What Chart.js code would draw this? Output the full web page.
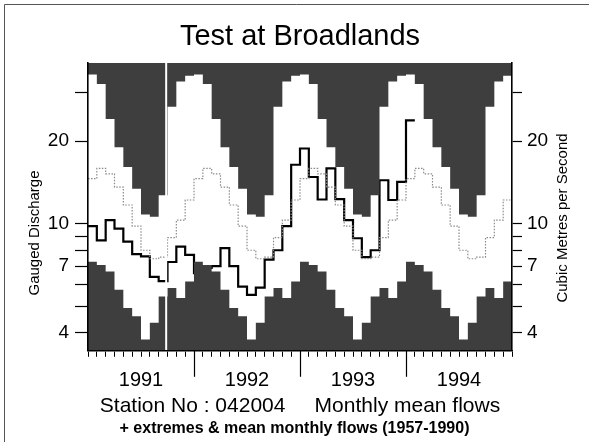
<!DOCTYPE html>
<html>
<head>
<meta charset="utf-8">
<title>Test at Broadlands</title>
<script src="https://cdn.jsdelivr.net/npm/chart.js@4.4.1/dist/chart.umd.min.js"></script>
<style>
  html, body { margin: 0; padding: 0; background: #fff; }
</style>
</head>
<body>
<canvas id="chart" width="589" height="442"></canvas>
<script>
// Long-term record 1957-1990, by calendar month (Jan..Dec), m3/s
const maxByMonth  = [35.0, 32.3, 24.1, 19.0, 16.1, 13.4, 10.8, 10.6, 12.7, 26.7, 33.0, 34.6]
const meanByMonth = [14.6, 15.9, 15.2, 13.6, 11.7, 9.8, 8.0, 7.45, 7.55, 8.9, 10.3, 12.2]
const minByMonth  = [7.27, 7.07, 6.69, 5.74, 4.93, 4.60, 3.78, 4.35, 5.43, 5.83, 5.36, 6.15]

// Monthly mean flows, Jan 1991 .. Jan 1994
const monthlyFlow = [
  9.8, 8.7, 10.3, 9.6, 8.6, 7.75, 7.6, 6.4, 6.17, 7.25, 8.25, 7.7,
  6.6, 6.9, 7.0, 8.15, 7.0, 5.9, 5.5, 5.85, 7.4, 8.0, 9.8, 16.4,
  18.8, 14.8, 12.25, 15.9, 12.3, 10.3, 8.85, 7.55, 8.0, 14.4, 12.2, 14.2,
  23.8
]

const yearLabels = ['1991', '1992', '1993', '1994']
const yearBreaks = [12, 24, 36]          // month index of 1 Jan 1992, 1993, 1994
const gapMonth = 8.85                    // white break in the record, autumn 1991
const yTicks = [4, 5, 6, 7, 8, 9, 10, 20, 30]
const yLabelled = [4, 7, 10, 20]
const yMin = 3.44
const yMax = 38.6

const FONT = '"Liberation Sans", Arial, Helvetica, sans-serif'
const DARK = '#3e3e3e'
const nMonths = yearLabels.length * 12

// month index -> calendar-month value, one extra point to close the last step
function climSeries(byMonth) {
  const pts = []
  for (let i = 0; i <= nMonths; i++) {
    pts.push({ x: i, y: byMonth[Math.min(i, nMonths - 1) % 12] })
  }
  return pts
}

const flowPoints = monthlyFlow.map((v, i) => ({ x: i, y: v }))
flowPoints.push({ x: monthlyFlow.length, y: monthlyFlow[monthlyFlow.length - 1] })

const monthTicks = []
for (let i = 0; i <= nMonths; i++) monthTicks.push({ value: i })

function yAxis(position, width, tickLength, padding) {
  return {
    type: 'logarithmic',
    position: position,
    min: yMin,
    max: yMax,
    afterBuildTicks: s => { s.ticks = yTicks.map(v => ({ value: v })) },
    afterFit: s => { s.width = width },
    grid: { drawOnChartArea: false, tickLength: tickLength, tickColor: '#000', tickWidth: 1.2 },
    border: { color: '#000', width: 1.6, z: 1 },
    ticks: {
      autoSkip: false,
      padding: padding,
      color: '#000',
      font: { family: FONT, size: 19 },
      callback: v => (yLabelled.includes(v) ? String(v) : '')
    }
  }
}

// extra marks: year break lines under the axis, gap line, side labels, frame
const extras = {
  id: 'extras',
  afterDatasetsDraw(chart) {
    const { ctx, chartArea, scales } = chart
    const gx = scales.x.getPixelForValue(gapMonth)
    ctx.save()
    ctx.strokeStyle = '#fff'
    ctx.lineWidth = 2
    ctx.beginPath()
    ctx.moveTo(gx, chartArea.top)
    ctx.lineTo(gx, chartArea.bottom)
    ctx.stroke()
    ctx.restore()
  },
  afterDraw(chart) {
    const { ctx, chartArea, scales } = chart
    ctx.save()
    ctx.strokeStyle = '#000'
    ctx.lineWidth = 1.2
    yearBreaks.forEach(m => {
      const px = Math.round(scales.x.getPixelForValue(m)) + 0.5
      ctx.beginPath()
      ctx.moveTo(px, chartArea.bottom)
      ctx.lineTo(px, chartArea.bottom + 26)
      ctx.stroke()
    })

    ctx.fillStyle = '#000'
    ctx.font = '15px ' + FONT
    ctx.textAlign = 'center'
    ctx.textBaseline = 'middle'
    ctx.translate(35, 233)
    ctx.rotate(-Math.PI / 2)
    ctx.fillText('Gauged Discharge', 0, 0)
    ctx.rotate(Math.PI / 2)
    ctx.translate(563 - 35, 218 - 233)
    ctx.rotate(-Math.PI / 2)
    ctx.fillText('Cubic Metres per Second', 0, 0)
    ctx.restore()

    ctx.save()
    ctx.strokeStyle = '#555'
    ctx.lineWidth = 1
    ctx.beginPath()
    ctx.moveTo(4.5, chart.height)
    ctx.lineTo(4.5, 4.5)
    ctx.lineTo(chart.width, 4.5)
    ctx.stroke()
    ctx.restore()
  }
}

new Chart(document.getElementById('chart'), {
  type: 'line',
  data: {
    datasets: [
      {
        label: 'Maximum',
        data: climSeries(maxByMonth),
        stepped: true,
        fill: 'end',
        backgroundColor: DARK,
        borderWidth: 0,
        pointRadius: 0
      },
      {
        label: 'Minimum',
        data: climSeries(minByMonth),
        stepped: true,
        fill: 'start',
        backgroundColor: DARK,
        borderWidth: 0,
        pointRadius: 0
      },
      {
        label: 'Mean',
        data: climSeries(meanByMonth),
        stepped: true,
        fill: false,
        borderColor: '#8a8a8a',
        borderWidth: 1.2,
        borderDash: [1.5, 1.5],
        pointRadius: 0
      },
      {
        label: 'Monthly mean flow',
        data: flowPoints,
        stepped: true,
        fill: false,
        borderColor: '#000',
        borderWidth: 2.2,
        pointRadius: 0
      }
    ]
  },
  options: {
    responsive: false,
    animation: false,
    layout: { padding: 0 },
    plugins: {
      legend: { display: false },
      tooltip: { enabled: false },
      title: {
        display: true,
        text: 'Test at Broadlands',
        fullSize: false,
        color: '#000',
        font: { family: FONT, size: 29, weight: 'normal' },
        padding: { top: 20, bottom: 8 }
      },
      subtitle: {
        display: true,
        position: 'bottom',
        text: '+ extremes & mean monthly flows (1957-1990)',
        color: '#000',
        font: { family: FONT, size: 16, weight: 'bold' },
        padding: { top: 0, bottom: 4 }
      }
    },
    scales: {
      x: {
        type: 'linear',
        min: 0,
        max: nMonths,
        afterBuildTicks: s => { s.ticks = monthTicks.slice() },
        afterFit: s => { s.height = 68 },
        grid: { drawOnChartArea: false, tickLength: 6, tickColor: '#000', tickWidth: 1 },
        border: { color: '#000', width: 1.6, z: 1 },
        ticks: {
          autoSkip: false,
          maxRotation: 0,
          padding: 12,
          color: '#000',
          font: { family: FONT, size: 20 },
          callback: v => ((v - 6) % 12 === 0 ? yearLabels[(v - 6) / 12] : '')
        },
        title: {
          display: true,
          text: 'Station No : 042004\u00a0\u00a0\u00a0\u00a0\u00a0Monthly mean flows',
          color: '#000',
          font: { family: FONT, size: 21 },
          padding: { top: 0, bottom: 0 }
        }
      },
      y: yAxis('left', 88, 13, 6),
      y2: yAxis('right', 77, 10, 5)
    }
  },
  plugins: [extras]
})
</script>
</body>
</html>
